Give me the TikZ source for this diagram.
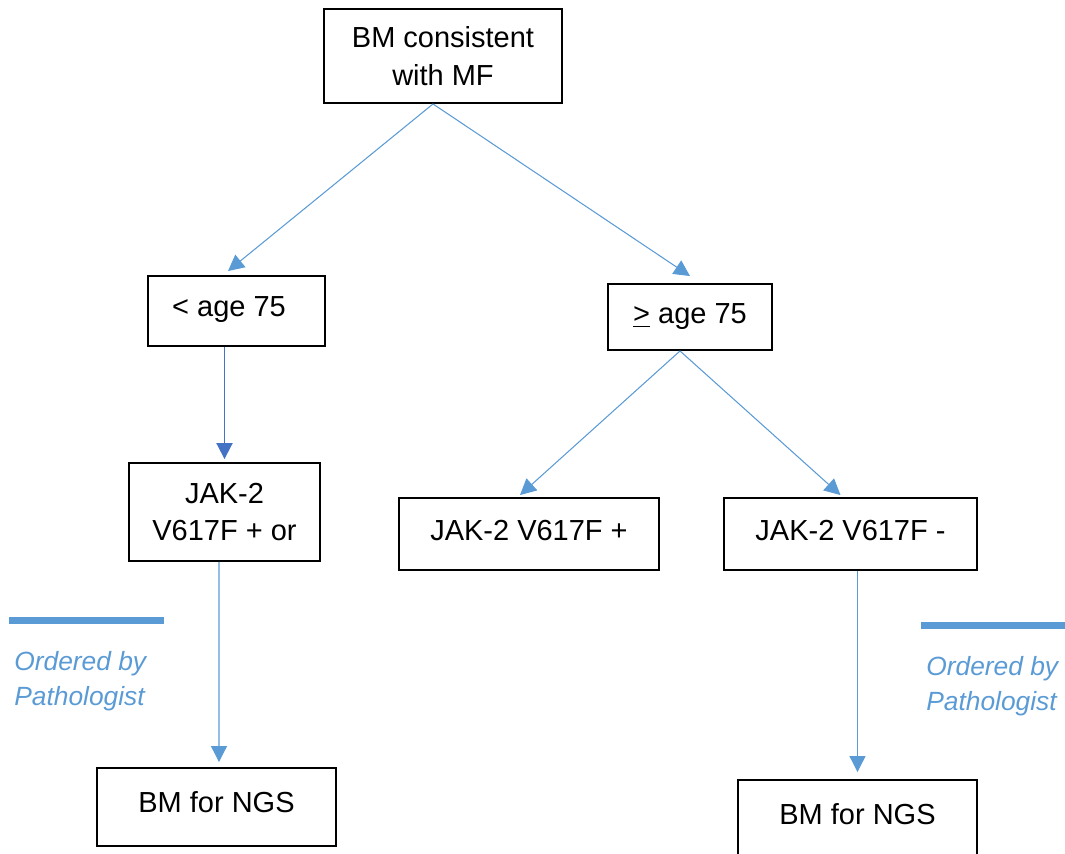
\documentclass[tikz,border=0pt]{standalone}
\usepackage{fontspec}
\setmainfont{Liberation Sans}
\usepackage{tikz}
\usetikzlibrary{arrows.meta, positioning, calc}
\definecolor{flowblue}{RGB}{91, 155, 213}
\definecolor{flowdark}{RGB}{68, 114, 196}
\tikzset{
    box/.style={rectangle, draw=black, line width=1.1pt, align=center, inner sep=2pt, font=\fontsize{16.5}{21.6}\selectfont},
    line/.style={draw, -{Triangle[length=0.32cm, width=0.32cm]}, flowblue, line width=0.6pt},
    darkline/.style={line, flowdark, line width=1.1pt},
    bar/.style={draw, flowblue, line width=0.14cm},
    note/.style={anchor=north west, inner sep=0pt, align=left, text=flowblue, font=\fontsize{15}{19.9}\selectfont\itshape}
}
\begin{document}
\begin{tikzpicture}[x=0.02cm, y=-0.02cm]
    \useasboundingbox (0,0) rectangle (1065,853);

    % Boxes
    \node[box, minimum width=4.76cm, minimum height=1.88cm] (mf) at (443,56) {BM consistent\\with MF};
    \node[box, minimum width=3.54cm, minimum height=1.4cm] (lt) at (236.5,311) {\raisebox{0.16cm}{< age 75\hspace{0.3cm}}};
    \node[box, minimum width=3.28cm, minimum height=1.32cm] (ge) at (690,317) {\raisebox{0.08cm}{\underline{>} age 75}};
    \node[box, minimum width=3.82cm, minimum height=1.96cm] (jl) at (224.5,512) {JAK-2\\V617F + or};
    \node[box, minimum width=5.2cm, minimum height=1.44cm] (jp) at (529,534) {\raisebox{0.14cm}{JAK-2 V617F +}};
    \node[box, minimum width=5.06cm, minimum height=1.44cm] (jm) at (850.5,534) {\raisebox{0.14cm}{JAK-2 V617F -}};
    \node[box, minimum width=4.78cm, minimum height=1.56cm] (nl) at (216.5,807) {\raisebox{0.2cm}{BM for NGS}};
    \node[box, minimum width=4.78cm, minimum height=1.56cm] (nr) at (857.5,819) {\raisebox{0.2cm}{BM for NGS}};

    % Connectors
    \draw[line] ([xshift=-0.2cm]mf.south) -- ([xshift=-0.17cm, yshift=0.08cm]lt.north);
    \draw[line] ([xshift=-0.2cm]mf.south) -- ([yshift=0.14cm]ge.north);
    \draw[darkline] (lt.south -| jl.north) -- ([yshift=0.06cm]jl.north);
    \draw[line] ([xshift=-0.2cm]ge.south) -- ([xshift=-0.18cm, yshift=0.04cm]jp.north);
    \draw[line] ([xshift=-0.2cm]ge.south) -- ([xshift=-0.2cm, yshift=0.04cm]jm.north);
    \draw[line] ([xshift=-0.11cm]jl.south) -- ([xshift=0.05cm, yshift=0.1cm]nl.north);
    \draw[line] (jm.south -| nr.north) -- ([yshift=0.14cm]nr.north);

    % Labels
    \draw[bar] (9,620.5) coordinate (bl1) -- (164,620.5) coordinate (bl2);
    \draw[bar] (921,625) coordinate (br1) -- (1065,625) coordinate (br2);
    \node[note] (ol) at (14,651) {Ordered by\\Pathologist};
    \node[note] (or) at (926,656) {Ordered by\\Pathologist};
\end{tikzpicture}
\end{document}
